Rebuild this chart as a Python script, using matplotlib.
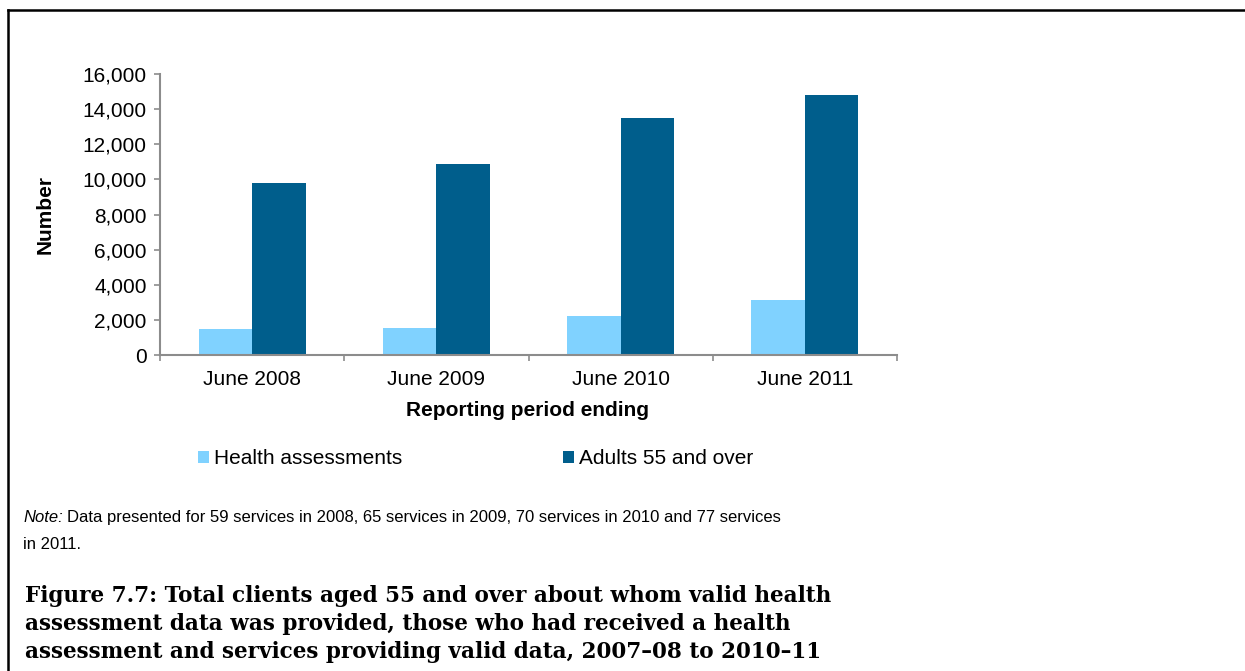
import numpy as np
import matplotlib.pyplot as plt
from matplotlib.lines import Line2D
from matplotlib.ticker import FuncFormatter

# Data
periods = ['June 2008', 'June 2009', 'June 2010', 'June 2011']
health_assess = [1500, 1560, 2200, 3120]
adults_55 = [9800, 10900, 13470, 14820]

light_c = '#80D2FF'
dark_c = '#005E8C'
axis_c = '#8C8C8C'
sans = ['Liberation Sans', 'DejaVu Sans']
serif = ['DejaVu Serif', 'Liberation Serif']
fontl = 15

fig = plt.figure(figsize=(12.45, 6.71), dpi=100)
W, H = 1245.0, 671.0
ax = fig.add_axes([160/W, 1-355/H, (897-160)/W, (355-74)/H])

x = np.arange(len(periods))
bw = 0.29
ax.bar(x - bw/2, health_assess, bw, color=light_c, label='Health assessments')
ax.bar(x + bw/2, adults_55, bw, color=dark_c, label='Adults 55 and over')

ax.set_xlim(-0.5, len(periods) - 0.5)
ax.set_ylim(0, 16000)
ax.set_yticks(np.arange(0, 16001, 2000))
ax.yaxis.set_major_formatter(FuncFormatter(lambda v, p: f'{int(v):,}'))
ax.set_xticks(np.arange(-0.5, len(periods), 1.0))
ax.set_xticklabels([])
ax.set_xticks(x, minor=True)
ax.set_xticklabels(periods, minor=True, fontsize=fontl, family=sans)
ax.tick_params(axis='x', which='minor', length=0, pad=11)
ax.tick_params(axis='x', which='major', length=4.5, width=1.2, color=axis_c, direction='out')
ax.tick_params(axis='y', length=4.5, width=1.2, color=axis_c, direction='out', pad=5)
for lab in ax.get_yticklabels():
    lab.set_fontsize(fontl)
    lab.set_family(sans)

for s in ['top', 'right']:
    ax.spines[s].set_visible(False)
for s in ['left', 'bottom']:
    ax.spines[s].set_color(axis_c)
    ax.spines[s].set_linewidth(1.5)

# Axis titles
fig.text(45/W, 1-215/H, 'Number', rotation=90, ha='center', va='center',
         fontsize=fontl, fontweight='bold', family=sans)
fig.text(528/W, 1-410/H, 'Reporting period ending', ha='center', va='center',
         fontsize=fontl, fontweight='bold', family=sans)

# Legend
ax.legend(loc='center left', bbox_to_anchor=(198/W, 1-459/H), bbox_transform=fig.transFigure,
          ncol=2, frameon=False, prop={'family': sans, 'size': fontl},
          handlelength=0.53, handleheight=0.53, handletextpad=0.25,
          columnspacing=7.7, borderpad=0, borderaxespad=0)

# Note below the chart (italic lead-in, then plain text on the same baseline)
note_i = fig.text(23/W, 1-522/H, 'Note:', style='italic', ha='left', va='baseline',
                  fontsize=12, family=sans)
fig.canvas.draw()
bb = note_i.get_window_extent()
fig.text(bb.x1/W + 4/W, 1-522/H,
         'Data presented for 59 services in 2008, 65 services in 2009, 70 services in 2010 and 77 services',
         ha='left', va='baseline', fontsize=12, family=sans)
fig.text(23/W, 1-549/H, 'in 2011.', ha='left', va='baseline', fontsize=12, family=sans)

# Figure caption
caption = ['Figure 7.7: Total clients aged 55 and over about whom valid health',
           'assessment data was provided, those who had received a health',
           'assessment and services providing valid data, 2007\u201308 to 2010\u201311']
for i, line in enumerate(caption):
    fig.text(25/W, 1-(596 + 28*i)/H, line, ha='left', va='center',
             fontsize=15.5, fontweight='bold', family=serif)

# Frame lines on top and left
fig.add_artist(Line2D([8/W, 1.0], [1-10/H, 1-10/H], transform=fig.transFigure, color='black', lw=1.8))
fig.add_artist(Line2D([8/W, 8/W], [1-10/H, 0.0], transform=fig.transFigure, color='black', lw=1.8))

fig.savefig('out.png', dpi=100)
plt.close(fig)
